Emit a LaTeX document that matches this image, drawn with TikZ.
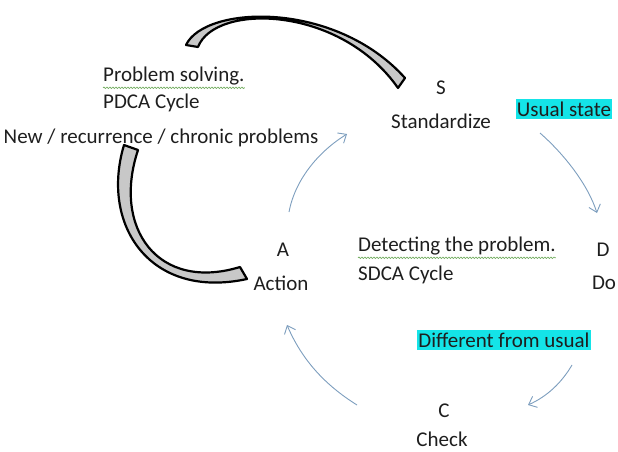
\documentclass[tikz,border=0pt]{standalone}
\usepackage{fontspec}
\setmainfont{Carlito}
\usetikzlibrary{arrows.meta,decorations.pathmorphing}
\definecolor{txt}{RGB}{30,30,30}
\definecolor{hl}{RGB}{20,228,232}
\definecolor{arr}{RGB}{125,158,190}
\definecolor{wavy}{RGB}{110,170,90}
\definecolor{band}{RGB}{200,200,200}
\tikzset{
  lbl/.style={font=\fontsize{21}{25}\selectfont, text=txt, inner sep=0pt},
  hlbox/.style={lbl, fill=hl, inner xsep=1pt, inner ysep=3pt},
  flow/.style={draw=arr, line width=0.9pt, -{Straight Barb[length=7pt,width=12pt]}},
  bigarc/.style={draw=black, fill=band, line width=2.2pt, line join=round},
  squiggle/.style={draw=wavy, line width=0.6pt, decorate, decoration={snake, amplitude=0.8pt, segment length=3pt}}
}
\begin{document}
\begin{tikzpicture}[x=1pt,y=-1pt]
\useasboundingbox (0,0) rectangle (618,452);
% texts
\node[lbl] (S) at (441,88) {S};
\node[lbl] (Std) at (441,121) {Standardize};
\node[hlbox] (usual) at (564,109) {Usual state};
\node[lbl, anchor=west] (ps) at (103,76) {Problem solving.};
\node[lbl, anchor=west] (pdca) at (103,103) {PDCA Cycle};
\node[lbl] (new) at (161,138) {New / recurrence / chronic problems};
\node[lbl] (A) at (283,250) {A};
\node[lbl] (Act) at (281,283) {Action};
\node[lbl, anchor=west] (det) at (358,246) {Detecting the problem.};
\node[lbl, anchor=west] (sdca) at (358,275) {SDCA Cycle};
\node[lbl] (D) at (603,250) {D};
\node[lbl] (Do) at (604,283) {Do};
\node[hlbox] (diff) at (504,340) {Different from usual};
\node[lbl] (C) at (444,411) {C};
\node[lbl] (Chk) at (442,439) {Check};
% wavy underlines
\draw[squiggle] ([yshift=-2.5pt]ps.south west) -- ([yshift=-2.5pt]ps.south east);
\draw[squiggle] ([yshift=-2.5pt]det.south west) -- ([yshift=-2.5pt]det.south east);
% flow arrows
\coordinate (a1s) at (289,212); \coordinate (a1e) at (347,134);
\coordinate (a2s) at (540,133); \coordinate (a2e) at (597,213);
\coordinate (a3s) at (572,365); \coordinate (a3e) at (528,405);
\coordinate (a4s) at (357,405); \coordinate (a4e) at (287,325);
\draw[flow] (a1s) .. controls (295,180) and (318,152) .. (a1e);
\draw[flow] (a2s) .. controls (565,155) and (588,185) .. (a2e);
\draw[flow] (a3s) .. controls (562,382) and (548,396) .. (a3e);
\draw[flow] (a4s) .. controls (325,385) and (302,360) .. (a4e);
% big curved block arrows
\path[bigarc] (186,45) .. controls (205,5) and (335,0) .. (405,78)
  -- (398,88) .. controls (340,5) and (215,3) .. (198,47) -- cycle;
\path[bigarc] (124,145) .. controls (100,225) and (150,300) .. (247,279)
  -- (240,267) .. controls (158,292) and (112,228) .. (138,150) -- cycle;
\end{tikzpicture}
\end{document}
